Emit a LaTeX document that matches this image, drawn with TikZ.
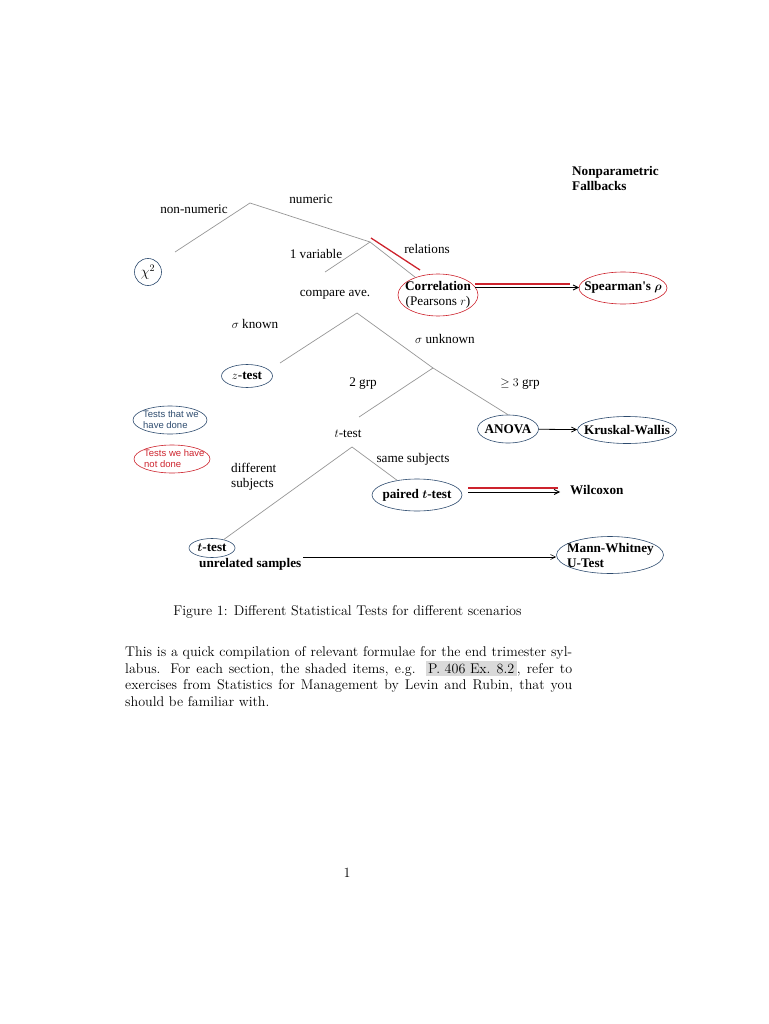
\documentclass[tikz,border=0pt]{standalone}
\usepackage{amsmath}
\usepackage{fontspec}
\usetikzlibrary{shapes.geometric,arrows.meta,calc}
\newfontfamily\dgfont{Liberation Serif}
\newfontfamily\lgfont{Liberation Sans}
\definecolor{dblue}{RGB}{45,75,110}
\definecolor{dred}{RGB}{205,35,45}
\definecolor{tgrey}{RGB}{150,150,150}
\definecolor{shade}{RGB}{218,218,218}
\begin{document}
\begin{tikzpicture}[x=1pt,y=-1pt,
  lbl/.style={font=\dgfont\fontsize{13.2}{15}\selectfont, inner sep=0pt},
  blbl/.style={font=\dgfont\bfseries\fontsize{13.2}{15}\selectfont, inner sep=0pt},
  branch/.style={draw=tgrey, line width=0.7pt},
  bellipse/.style={ellipse, draw=dblue, line width=0.6pt, inner sep=0pt},
  rellipse/.style={ellipse, draw=dred, line width=0.6pt, inner sep=0pt},
  redline/.style={draw=dred, line width=1.3pt},
  blkline/.style={draw=black, line width=0.8pt},
  tip/.style={-{Straight Barb[length=5pt,width=5pt]}},
  legend/.style={font=\lgfont\fontsize{9.5}{11}\selectfont, align=left, inner sep=0pt},
  body/.style={font=\fontsize{14.1}{16.9}\selectfont, inner sep=0pt}
]
\useasboundingbox (0,0) rectangle (768,1024);

% --- headings
\node[blbl, align=left, anchor=north west] (np) at (572,166) {Nonparametric\\Fallbacks};

% --- top level
\coordinate (r0) at (250,203);
\coordinate (r0l) at (175,252);
\coordinate (r1) at (370,242);
\coordinate (v1end) at (325,272);
\node[lbl] (nonnum) at (194,209) {non-numeric};
\node[lbl] (num) at (311,199) {numeric};
\node[bellipse, minimum width=27pt, minimum height=27pt] (chi) at (148,272) {};
\node[inner sep=0pt, font=\fontsize{14}{15}\selectfont] (chit) at (chi) {$\chi^2$};
\node[lbl] (onevar) at (316,254) {1 variable};
\node[lbl] (rel) at (427,249) {relations};
\node[rellipse, minimum width=80pt, minimum height=42pt] (corr) at (438,295) {};
\node[lbl, align=center] (corrt) at (corr) {\textbf{Correlation}\\(Pearsons $r$)};
\draw[branch] (r0l) -- (r0) -- (r1);
\draw[branch] (r1) -- (v1end);
\draw[branch] (r1) -- (corr);
\coordinate (redA) at (371,238);
\coordinate (redB) at (420,270);
\draw[redline] (redA) -- (redB);

% --- Spearman
\node[rellipse, minimum width=88pt, minimum height=32pt] (spear) at (623,288) {};
\node[blbl] (speart) at (spear) {Spearman's $\boldsymbol{\rho}$};
\coordinate (sa1) at (475,284);
\coordinate (sa2) at (570,284);
\coordinate (sb1) at (475,287.5);
\coordinate (sb2) at (579,287.5);
\draw[redline] (sa1) -- (sa2);
\draw[blkline, tip] (sb1) -- (sb2);

% --- compare averages
\node[lbl] (cmp) at (335,295) {compare ave.};
\coordinate (c0) at (357,313);
\coordinate (c0l) at (280,363);
\coordinate (c1) at (433,368);
\coordinate (c1l) at (359,417);
\draw[branch] (c0l) -- (c0) -- (c1);
\node[lbl] (sk) at (255,324) {$\sigma$ known};
\node[lbl] (su) at (445,339) {$\sigma$ unknown};
\node[bellipse, minimum width=51pt, minimum height=23pt] (zt) at (247,376) {};
\node[lbl] (ztt) at (zt) {$z$-\textbf{test}};
\node[lbl] (g2) at (363,384) {2 grp};
\node[lbl] (g3) at (520,384) {$\geq 3$ grp};
\node[bellipse, minimum width=61pt, minimum height=28pt] (anova) at (508,429) {};
\node[blbl] (anovat) at (anova) {ANOVA};
\draw[branch] (c1l) -- (c1) -- (anova.north);
\node[bellipse, minimum width=99pt, minimum height=27pt] (kw) at (627,430) {};
\node[blbl] (kwt) at (kw) {Kruskal-Wallis};
\draw[blkline, tip] (anova) -- (kw);

% --- t-test
\node[lbl] (tt) at (348,434) {$t$-test};
\coordinate (c2) at (352,447);
\node[lbl] (same) at (413,459) {same subjects};
\node[lbl, align=left, anchor=west] (diff) at (231,477) {different\\subjects};
\node[bellipse, minimum width=90pt, minimum height=32pt] (paired) at (417,495) {};
\node[blbl] (pairedt) at (paired) {paired $\boldsymbol{t}$-test};
\node[bellipse, minimum width=46pt, minimum height=19pt] (tt2) at (212,548) {};
\node[blbl] (tt2t) at (tt2) {$\boldsymbol{t}$-test};
\draw[branch] (tt2) -- (c2) -- (paired);
\node[blbl, anchor=west] (wil) at (570,490) {Wilcoxon};
\coordinate (pa1) at (468,488);
\coordinate (pa2) at (558,488);
\coordinate (pb1) at (468,492);
\coordinate (pb2) at (560,492);
\draw[redline] (pa1) -- (pa2);
\draw[blkline, tip] (pb1) -- (pb2);

\node[blbl, anchor=west] (unrel) at (199,564) {unrelated samples};
\node[bellipse, minimum width=107pt, minimum height=37pt] (mann) at (610,555) {};
\node[blbl, align=left, anchor=west] (mannt) at (567,555) {Mann-Whitney\\U-Test};
\coordinate (ua) at (303,557);
\draw[draw=black, line width=0.6pt, tip] (ua) -- (ua -| mann.west);

% --- legend
\node[bellipse, minimum width=74pt, minimum height=28pt] (done) at (170,420) {};
\node[legend, text=dblue, anchor=west] (donet) at (143,420) {Tests that we\\have done};
\node[rellipse, minimum width=76pt, minimum height=28pt] (notdone) at (172,459) {};
\node[legend, text=dred, anchor=west] (notdonet) at (144,459) {Tests we have\\not done};

% --- caption and body
\node[body] (cap) at (347.5,612)
  {Figure 1: Different Statistical Tests for different scenarios};
\node[body, anchor=north west, text width=447pt, align=justify] (bodytext) at (125,646)
  {This is a quick compilation of relevant formulae for the end trimester syl-\linebreak
   labus. For each section, the shaded items, e.g. {\setlength{\fboxsep}{2.5pt}\colorbox{shade}{P. 406 Ex. 8.2}}, refer to\linebreak
   exercises from Statistics for Management by Levin and Rubin, that you\linebreak
   should be familiar with.};
\node[body] (pg) at (347,873) {1};
\end{tikzpicture}
\end{document}
